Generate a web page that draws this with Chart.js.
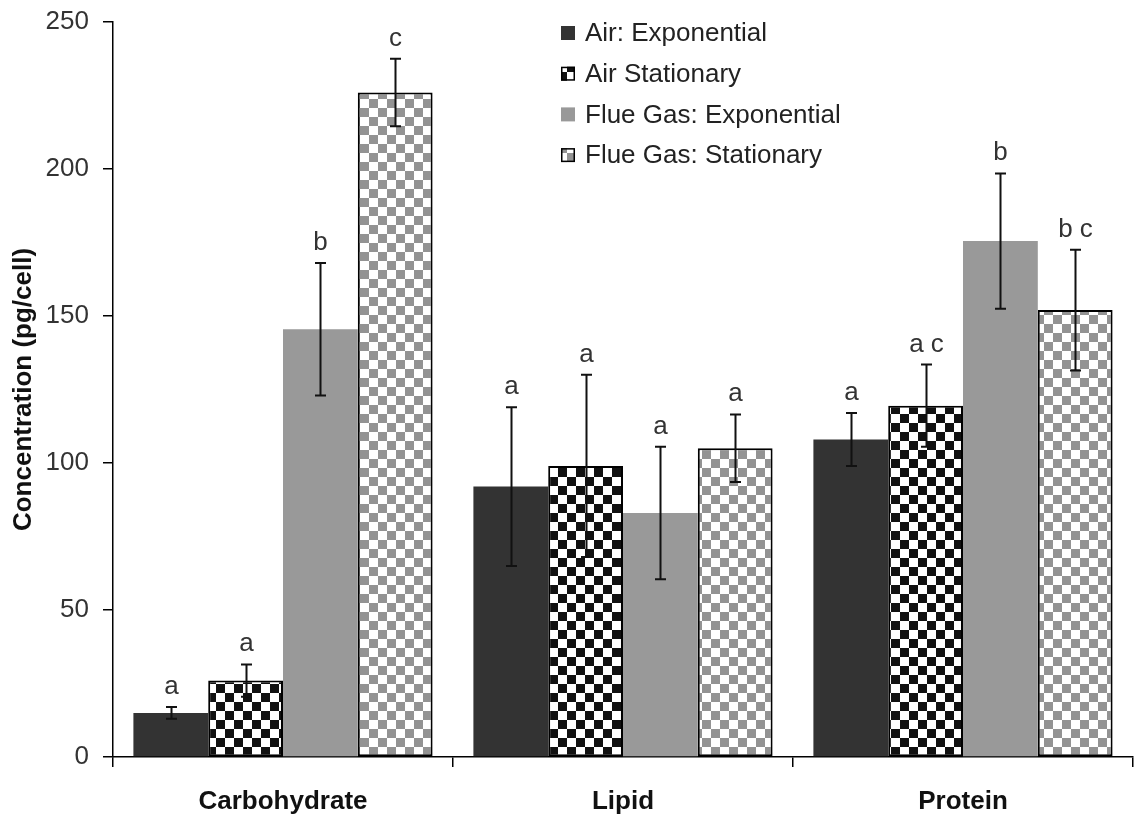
<!DOCTYPE html>
<html>
<head>
<meta charset="utf-8">
<script src="https://cdn.jsdelivr.net/npm/chart.js@4/dist/chart.umd.min.js"></script>
<style>
  html, body { margin: 0; padding: 0; background: #fff; }
  #wrap { width: 1136px; height: 818px; }
</style>
</head>
<body>
<div id="wrap"><canvas id="c" width="1136" height="818"></canvas></div>
<script>
// Macromolecule content per cell, by growth phase and gas source
const categories = ['Carbohydrate', 'Lipid', 'Protein'];
const seriesNames = ['Air: Exponential', 'Air Stationary', 'Flue Gas: Exponential', 'Flue Gas: Stationary'];

const airExp = [15, 92, 108];
const airExpErr = [2, 27, 9];
const airStat = [26, 99, 119.5];
const airStatErr = [5.5, 31, 14];
const flueExp = [145.5, 83, 175.5];
const flueExpErr = [22.5, 22.5, 23];
const flueStat = [226, 105, 152];
const flueStatErr = [11.5, 11.5, 20.5];

// significance groupings printed over each bar
const airExpLetters = ['a', 'a', 'a'];
const airStatLetters = ['a', 'a', 'a c'];
const flueExpLetters = ['b', 'a', 'b'];
const flueStatLetters = ['c', 'a', 'b c'];

const yTickValues = [0, 50, 100, 150, 200, 250];

const FONT = "'Liberation Sans', Arial, sans-serif";

function checker(dark, light, cell) {
  const t = document.createElement('canvas');
  t.width = cell * 2; t.height = cell * 2;
  const g = t.getContext('2d');
  g.fillStyle = light; g.fillRect(0, 0, cell * 2, cell * 2);
  g.fillStyle = dark;
  g.fillRect(0, 0, cell, cell);
  g.fillRect(cell, cell, cell, cell);
  return document.getElementById('c').getContext('2d').createPattern(t, 'repeat');
}

const blackChecker = checker('#111111', '#ffffff', 9);
const grayChecker = checker('#939393', '#ffffff', 9);

const series = [
  { name: seriesNames[0], data: airExp, err: airExpErr, letters: airExpLetters, fill: '#333333', border: 0 },
  { name: seriesNames[1], data: airStat, err: airStatErr, letters: airStatLetters, fill: blackChecker, border: 2 },
  { name: seriesNames[2], data: flueExp, err: flueExpErr, letters: flueExpLetters, fill: '#999999', border: 0 },
  { name: seriesNames[3], data: flueStat, err: flueStatErr, letters: flueStatLetters, fill: grayChecker, border: 2 }
];

const errorBars = {
  id: 'errorBars',
  afterDatasetsDraw(chart) {
    const ctx = chart.ctx;
    const y = chart.scales.y;
    ctx.save();
    ctx.strokeStyle = '#111';
    ctx.lineWidth = 2;
    ctx.fillStyle = '#333';
    ctx.font = '26px ' + FONT;
    ctx.textAlign = 'center';
    ctx.textBaseline = 'alphabetic';
    chart.data.datasets.forEach((ds, di) => {
      const meta = chart.getDatasetMeta(di);
      meta.data.forEach((bar, i) => {
        const v = ds.data[i], e = ds.errors[i];
        const top = y.getPixelForValue(v + e);
        const bot = y.getPixelForValue(v - e);
        const x = Math.round(bar.x) + 0.5;
        ctx.beginPath();
        ctx.moveTo(x, top); ctx.lineTo(x, bot);
        ctx.moveTo(x - 5.5, top); ctx.lineTo(x + 5.5, top);
        ctx.moveTo(x - 5.5, bot); ctx.lineTo(x + 5.5, bot);
        ctx.stroke();
        ctx.fillText(ds.letters[i], x, top - 13);
      });
    });
    ctx.restore();
  }
};

const legendBox = {
  id: 'legendBox',
  afterDraw(chart) {
    const ctx = chart.ctx;
    ctx.save();
    ctx.font = '26px ' + FONT;
    ctx.textBaseline = 'middle';
    ctx.textAlign = 'left';
    chart.data.datasets.forEach((ds, i) => {
      const cy = 33 + i * 40.7;
      const bx = 561, s = 14;
      ctx.fillStyle = ds.backgroundColor;
      ctx.fillRect(bx, cy - s / 2, s, s);
      if (ds.borderWidth) {
        ctx.strokeStyle = '#000';
        ctx.lineWidth = 1.5;
        ctx.strokeRect(bx + 0.75, cy - s / 2 + 0.75, s - 1.5, s - 1.5);
      }
      ctx.fillStyle = '#222';
      ctx.fillText(ds.label, 585, cy + 1);
    });
    ctx.restore();
  }
};

new Chart(document.getElementById('c'), {
  type: 'bar',
  data: {
    labels: categories,
    datasets: series.map(s => ({
      label: s.name,
      data: s.data,
      errors: s.err,
      letters: s.letters,
      backgroundColor: s.fill,
      borderColor: '#000',
      borderWidth: s.border,
      borderSkipped: false,
      categoryPercentage: 0.88,
      barPercentage: 1.0
    }))
  },
  options: {
    responsive: false,
    animation: false,
    layout: { padding: { top: 22, right: 3, bottom: 0, left: 0 } },
    plugins: { legend: { display: false }, tooltip: { enabled: false } },
    scales: {
      x: {
        offset: true,
        afterFit(scale) { scale.height = 61; scale.paddingLeft = 0; scale.paddingRight = 0; },
        grid: { display: true, drawOnChartArea: false, offset: true, tickLength: 10, color: '#000', lineWidth: 1.5 },
        border: { color: '#000', width: 1.5 },
        ticks: { color: '#111', padding: 19, font: { family: FONT, size: 26, weight: 'bold' } }
      },
      y: {
        min: 0, max: 250,
        afterFit(scale) { scale.width = 113; scale.paddingTop = 0; scale.paddingBottom = 0; },
        afterBuildTicks(scale) { scale.ticks = yTickValues.map(v => ({ value: v })); },
        grid: { display: true, drawOnChartArea: false, tickLength: 10, color: '#000', lineWidth: 1.5 },
        border: { color: '#000', width: 1.5 },
        ticks: { color: '#333', padding: 14, font: { family: FONT, size: 26 } },
        title: {
          display: true,
          text: 'Concentration (pg/cell)',
          color: '#111',
          padding: { top: 8, bottom: 0 },
          font: { family: FONT, size: 26, weight: 'bold' }
        }
      }
    }
  },
  plugins: [errorBars, legendBox]
});
</script>
</body>
</html>
